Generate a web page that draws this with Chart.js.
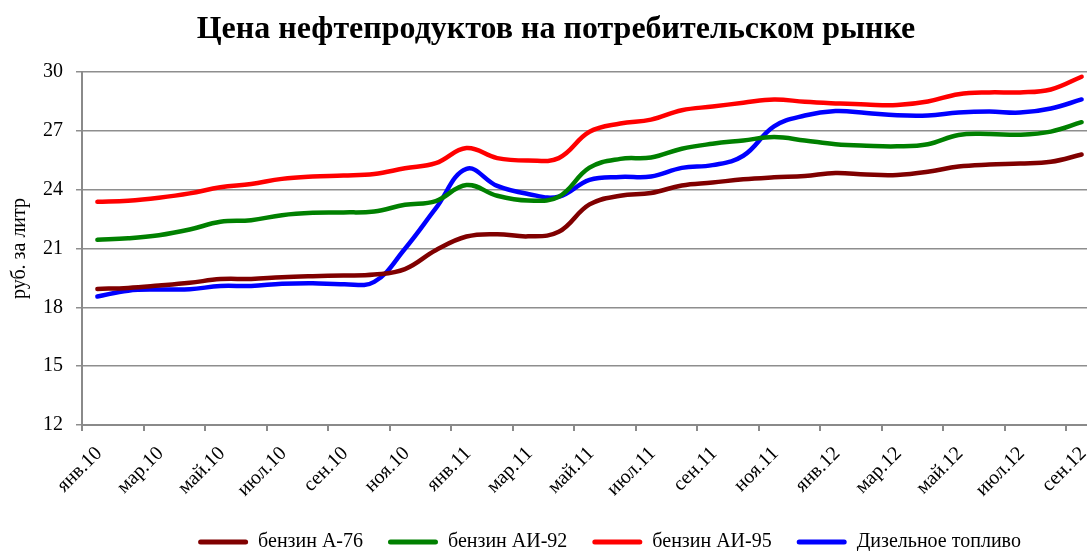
<!DOCTYPE html>
<html>
<head>
<meta charset="utf-8">
<script src="https://cdn.jsdelivr.net/npm/chart.js@4.4.1/dist/chart.umd.min.js"></script>
<style>
html, body { margin: 0; padding: 0; overflow: hidden; background: #fff; }
canvas { display: block; }
</style>
</head>
<body>
<canvas id="c" width="1112" height="600"></canvas>
<script>
// ---- data ----
const monthNames = ['янв','фев','мар','апр','май','июн','июл','авг','сен','окт','ноя','дек'];
const categories = [];
for (let y = 10; y <= 12; y++) for (let m = 0; m < 12; m++) {
  if (y === 12 && m > 8) break;
  categories.push(monthNames[m] + '.' + y);
}
const tickLabels = categories.filter((c, i) => i % 2 === 0);

const seriesNames = ['бензин А-76', 'бензин АИ-92', 'бензин АИ-95', 'Дизельное топливо'];
const a76    = [18.94, 18.99, 19.11, 19.25, 19.44, 19.45, 19.54, 19.59, 19.62, 19.67, 19.95, 20.91, 21.61, 21.73, 21.62, 21.85, 23.25, 23.69, 23.83, 24.21, 24.36, 24.53, 24.63, 24.70, 24.85, 24.77, 24.75, 24.91, 25.18, 25.28, 25.33, 25.42, 25.79];
const ai92   = [21.44, 21.52, 21.68, 21.97, 22.36, 22.44, 22.70, 22.82, 22.84, 22.89, 23.23, 23.42, 24.24, 23.69, 23.45, 23.64, 25.12, 25.57, 25.64, 26.09, 26.34, 26.51, 26.68, 26.51, 26.32, 26.24, 26.21, 26.32, 26.79, 26.84, 26.80, 26.96, 27.44];
const ai95   = [23.38, 23.44, 23.59, 23.81, 24.12, 24.29, 24.55, 24.67, 24.72, 24.80, 25.09, 25.35, 26.12, 25.61, 25.49, 25.61, 26.95, 27.37, 27.57, 28.05, 28.24, 28.43, 28.60, 28.48, 28.40, 28.34, 28.32, 28.50, 28.87, 28.96, 28.96, 29.11, 29.76];
const diesel = [18.55, 18.85, 18.91, 18.92, 19.09, 19.09, 19.20, 19.23, 19.18, 19.30, 20.99, 23.04, 25.06, 24.19, 23.78, 23.64, 24.50, 24.65, 24.67, 25.11, 25.25, 25.73, 27.23, 27.78, 28.01, 27.91, 27.79, 27.78, 27.93, 27.98, 27.93, 28.14, 28.60];
const colors = ['#800000', '#008000', '#FF0000', '#0000FF'];

// ---- chart ----
const toPoints = arr => arr.map((v, i) => ({ x: i + 0.5, y: v }));
const seriesValues = [a76, ai92, ai95, diesel];

Chart.defaults.font.family = "'Liberation Serif', 'Times New Roman', serif";
Chart.defaults.color = '#000';

// nudges legend and title boxes after layout (Excel places them independently of the plot)
const boxShift = {
  id: 'boxShift',
  afterLayout(chart, args, opts) {
    const l = chart.legend;
    l.left += opts.legendDx; l.right += opts.legendDx;
    l.top += opts.legendDy; l.bottom += opts.legendDy;
    const t = chart.titleBlock;
    if (t) { t.left += opts.titleDx; t.right += opts.titleDx; }
  }
};

new Chart(document.getElementById('c'), {
  type: 'line',
  data: {
    datasets: seriesValues.map((vals, k) => ({
      label: seriesNames[k],
      data: toPoints(vals),
      borderColor: colors[k],
      backgroundColor: colors[k],
      borderWidth: 4.5,
      borderCapStyle: 'round',
      borderJoinStyle: 'round',
      pointRadius: 0,
      tension: 0.4,
      fill: false
    }))
  },
  plugins: [boxShift],
  options: {
    responsive: false,
    animation: false,
    events: [],
    layout: { padding: { left: 0, right: 15, top: 0, bottom: 0 } },
    plugins: {
      boxShift: { legendDx: 61, legendDy: -38, titleDx: 7.5 },
      title: {
        display: true,
        text: 'Цена нефтепродуктов на потребительском рынке',
        font: { size: 32, weight: 'bold' },
        color: '#000',
        padding: { top: 11, bottom: 22.6 }
      },
      legend: {
        position: 'bottom',
        labels: {
          boxWidth: 50,
          boxHeight: 5,
          useBorderRadius: true,
          borderRadius: 2.5,
          padding: 25,
          font: { size: 20 },
          color: '#000',
          generateLabels(chart) {
            return Chart.defaults.plugins.legend.labels.generateLabels(chart).map(l => Object.assign(l, { lineWidth: 0 }));
          }
        }
      },
      tooltip: { enabled: false }
    },
    scales: {
      x: {
        type: 'linear',
        min: 0,
        max: 33,
        afterFit(s) { s.height = 120; s.paddingLeft = 0; s.paddingRight = 0; },
        border: { display: true, color: '#8a8a8a', width: 2 },
        grid: { display: true, drawOnChartArea: false, drawTicks: true, tickLength: 6, color: '#8a8a8a', lineWidth: 2 },
        ticks: {
          stepSize: 2,
          includeBounds: false,
          autoSkip: false,
          minRotation: 45,
          maxRotation: 45,
          labelOffset: 17,
          padding: 11,
          font: { size: 20 },
          color: '#000',
          callback: v => tickLabels[v / 2]
        }
      },
      y: {
        min: 12,
        max: 30,
        afterFit(s) { s.width = 82; },
        border: { display: true, color: '#8a8a8a', width: 2 },
        grid: { color: '#8e8e8e', lineWidth: 1.5, drawTicks: true, tickLength: 6 },
        ticks: { stepSize: 3, padding: 13, font: { size: 20 }, color: '#000' },
        title: {
          display: true,
          text: 'руб. за литр',
          font: { size: 20 },
          color: '#000',
          padding: { top: 8, bottom: 0 }
        }
      }
    }
  }
});
</script>
</body>
</html>
